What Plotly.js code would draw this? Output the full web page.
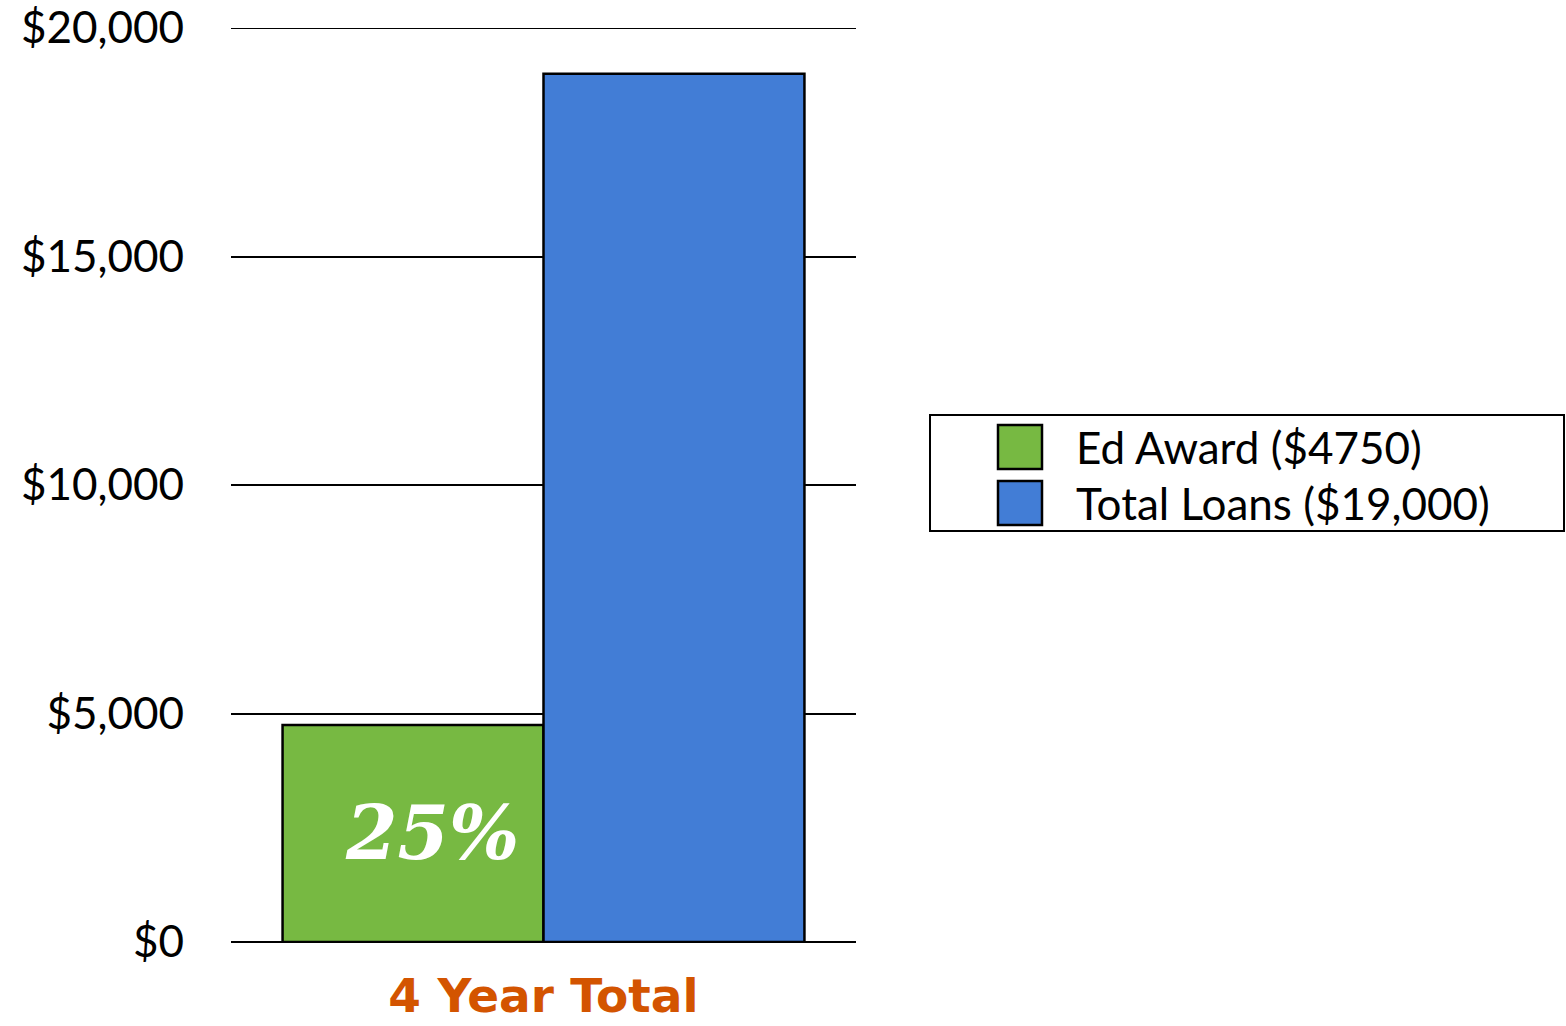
<!DOCTYPE html>
<html>
<head>
<meta charset="utf-8">
<script src="https://cdn.plot.ly/plotly-3.0.1.min.js"></script>
<style>html,body{margin:0;padding:0;background:#fff;}#chart{width:1566px;height:1026px;}</style>
</head>
<body>
<div id="chart"></div>
<script>
const categories = ["4 Year Total"];
const seriesNames = ["Ed Award ($4750)", "Total Loans ($19,000)"];
const edAward = [4750];
const totalLoans = [19000];
const yTicks = [0, 5000, 10000, 15000, 20000];
const yTickText = ["$0", "$5,000", "$10,000", "$15,000", "$20,000"];
const barLabel = Math.round(edAward[0] / totalLoans[0] * 100) + "%";

const W = 1566, H = 1026;
const mL = 231, mR = W - 856, mT = 28, mB = H - 942;
const pw = W - mL - mR, ph = H - mT - mB;
const px = x => (x - mL) / pw;
const py = y => (H - mB - y) / ph;

const colors = ["#77B942", "#427DD6"];
const tickFont = {family: "Lato, 'Noto Sans', sans-serif", size: 44, color: "#000"};

const traces = [
  {type: "bar", x: categories, y: edAward, name: seriesNames[0],
   marker: {color: colors[0], line: {color: "#000", width: 2.5}}, showlegend: false},
  {type: "bar", x: categories, y: totalLoans, name: seriesNames[1],
   marker: {color: colors[1], line: {color: "#000", width: 2.5}}, showlegend: false}
];

const shapes = [
  {type: "line", xref: "paper", yref: "y", x0: 0, x1: 1, y0: yTicks[yTicks.length - 1], y1: yTicks[yTicks.length - 1],
   line: {color: "#000", width: 2}, layer: "below"},
  {type: "rect", xref: "paper", yref: "paper", x0: px(930), x1: px(1564), y0: py(415), y1: py(531),
   line: {color: "#000", width: 2}, fillcolor: "#fff"},
  {type: "rect", xref: "paper", yref: "paper", x0: px(998), x1: px(1042), y0: py(425), y1: py(469),
   line: {color: "#000", width: 2.5}, fillcolor: colors[0]},
  {type: "rect", xref: "paper", yref: "paper", x0: px(998), x1: px(1042), y0: py(481), y1: py(525),
   line: {color: "#000", width: 2.5}, fillcolor: colors[1]}
];

const annotations = [
  {xref: "paper", yref: "paper", x: px(1074), y: py(447), xanchor: "left", yanchor: "middle",
   text: seriesNames[0], showarrow: false, font: tickFont},
  {xref: "paper", yref: "paper", x: px(1074), y: py(503), xanchor: "left", yanchor: "middle",
   text: seriesNames[1], showarrow: false, font: tickFont},
  {xref: "x", yref: "y", x: categories[0], y: edAward[0] / 2, xshift: -112, yshift: 0,
   xanchor: "center", yanchor: "middle", showarrow: false, text: barLabel,
   font: {family: "'DejaVu Serif', 'Liberation Serif', serif", size: 74, color: "#fff", weight: "bold", style: "italic"}}
];

const layout = {
  width: W, height: H,
  margin: {l: mL, r: mR, t: mT, b: mB, pad: 0},
  paper_bgcolor: "#fff", plot_bgcolor: "#fff",
  barmode: "group", bargap: 0.165, bargroupgap: 0,
  showlegend: false,
  xaxis: {type: "category", showgrid: false, zeroline: false, showline: false, ticks: "",
          tickfont: {family: "'DejaVu Sans', Verdana, sans-serif", size: 47, color: "#D35400", weight: "bold"},
          ticklabelstandoff: 22},
  yaxis: {range: [0, 20000], tickmode: "array", tickvals: yTicks, ticktext: yTickText,
          showgrid: true, gridcolor: "#000", gridwidth: 2, zeroline: true, zerolinecolor: "#000", zerolinewidth: 2,
          showline: false, ticks: "", tickfont: tickFont, ticklabelstandoff: 46},
  shapes: shapes,
  annotations: annotations
};

Plotly.newPlot("chart", traces, layout, {displayModeBar: false, staticPlot: true});
</script>
</body>
</html>
